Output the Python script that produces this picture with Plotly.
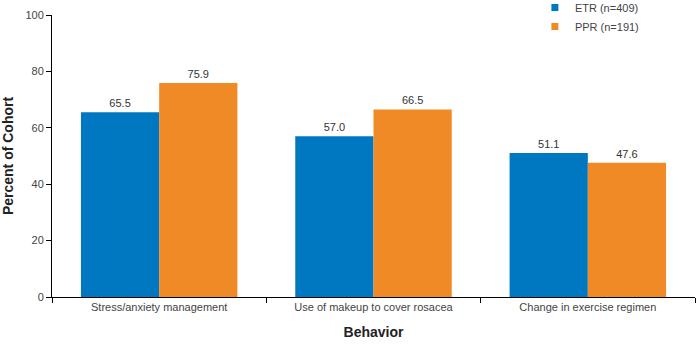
import plotly.graph_objects as go

categories = ["Stress/anxiety management", "Use of makeup to cover rosacea", "Change in exercise regimen"]
etr_values = [65.5, 57.0, 51.1]
ppr_values = [75.9, 66.5, 47.6]
series_names = ["ETR (n=409)", "PPR (n=191)"]
blue = "#0077C1"
orange = "#F08A26"

fig = go.Figure()
for name, vals, col in [(series_names[0], etr_values, blue), (series_names[1], ppr_values, orange)]:
    fig.add_trace(go.Bar(
        x=categories, y=vals, marker=dict(color=col, line=dict(width=0)),
        text=[f"{v:.1f}" for v in vals], textposition="outside",
        textfont=dict(size=11, color="#333333", family="Liberation Sans, Arial"),
        cliponaxis=False, showlegend=False,
    ))
    fig.add_trace(go.Scatter(
        x=[None], y=[None], mode="markers", name=name,
        marker=dict(symbol="square", size=7, color=col),
    ))

fig.update_layout(
    width=697, height=352,
    margin=dict(l=52, r=2, t=15, b=55, autoexpand=False),
    paper_bgcolor="white", plot_bgcolor="white",
    barmode="group", bargap=0.27, bargroupgap=0,
    font=dict(family="Liberation Sans, Arial", size=11, color="#444444"),
    legend=dict(x=0.751, y=1.078, xanchor="left", yanchor="top",
                font=dict(size=11, color="#444444"), bgcolor="rgba(0,0,0,0)",
                tracegroupgap=0, itemsizing="trace"),
    xaxis=dict(
        showline=True, linecolor="black", linewidth=1,
        ticks="outside", tickson="boundaries", ticklen=5, tickcolor="black",
        tickfont=dict(size=11, color="#444444"),
        title=dict(text="<b>Behavior</b>", font=dict(size=14, color="#222222"), standoff=14),
        showgrid=False, automargin=False,
    ),
    yaxis=dict(
        range=[0, 100], dtick=20, showline=True, linecolor="black", linewidth=1,
        ticks="outside", ticklen=5, tickcolor="black",
        tickfont=dict(size=11, color="#444444"),
        title=dict(text="<b>Percent of Cohort</b>", font=dict(size=14, color="#222222"), standoff=10),
        showgrid=False, zeroline=False, automargin=False,
    ),
)

fig.write_html("out.html", config={"displayModeBar": False},
               post_script="document.body.style.margin='0';")
